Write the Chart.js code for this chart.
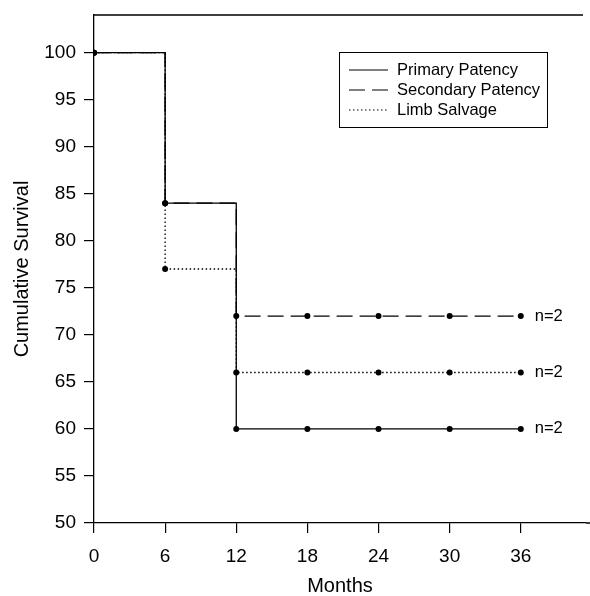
<!DOCTYPE html>
<html>
<head>
<meta charset="utf-8">
<script src="https://cdn.jsdelivr.net/npm/chart.js@4.4.1/dist/chart.umd.min.js"></script>
<style>
  body { margin: 0; background: #fff; }
  canvas { display: block; }
</style>
</head>
<body>
<canvas id="myChart" width="590" height="596"></canvas>
<script>
// data
const months = [0, 6, 12, 18, 24, 30, 36];
const primaryPatency = [100, 84, 60, 60, 60, 60, 60];
const secondaryPatency = [100, 84, 72, 72, 72, 72, 72];
const limbSalvage = [100, 77, 66, 66, 66, 66, 66];
const seriesNames = ['Primary Patency', 'Secondary Patency', 'Limb Salvage'];
const endLabels = ['n=2', 'n=2', 'n=2'];

const ink = '#000';
const font = '"Liberation Sans", Arial, sans-serif';

function toPoints(ys) {
  return months.map((m, i) => ({ x: m, y: ys[i] }));
}

const dashes = [[], [16, 7], [1.5, 2.5]];

// legend box + n=2 labels + top border
const extras = {
  id: 'extras',
  afterDraw(chart) {
    const c = chart.ctx;
    const area = chart.chartArea;
    const xs = chart.scales.x;
    const ys = chart.scales.y;
    c.save();
    c.strokeStyle = ink;
    c.lineWidth = 1.3;
    c.beginPath();
    c.moveTo(area.left, area.top);
    c.lineTo(area.right - 3, area.top);
    c.moveTo(area.right, area.bottom);
    c.lineTo(590, area.bottom);
    c.stroke();

    // legend
    c.lineWidth = 1;
    c.strokeRect(339.5, 52.5, 208, 75);
    c.font = '16.5px ' + font;
    c.fillStyle = ink;
    c.textBaseline = 'middle';
    const rows = [70, 90, 110];
    seriesNames.forEach((name, i) => {
      c.setLineDash(dashes[i]);
      c.lineWidth = 1.2;
      c.beginPath();
      c.moveTo(349, rows[i]);
      c.lineTo(388, rows[i]);
      c.stroke();
      c.setLineDash([]);
      c.fillText(name, 397, rows[i]);
    });

    // n=2 at the end of each curve
    const last = months.length - 1;
    const ends = [primaryPatency[last], secondaryPatency[last], limbSalvage[last]];
    ends.forEach((v, i) => {
      c.fillText(endLabels[i], xs.getPixelForValue(months[last]) + 14, ys.getPixelForValue(v));
    });
    c.restore();
  }
};

const ctx = document.getElementById('myChart');

new Chart(ctx, {
  type: 'line',
  data: {
    datasets: [
      { label: seriesNames[2], data: toPoints(limbSalvage), borderDash: dashes[2] },
      { label: seriesNames[1], data: toPoints(secondaryPatency), borderDash: dashes[1] },
      { label: seriesNames[0], data: toPoints(primaryPatency), borderDash: dashes[0] }
    ].map(d => Object.assign(d, {
      stepped: 'before',
      borderColor: ink,
      borderWidth: 1.3,
      pointRadius: 3,
      pointBackgroundColor: ink,
      pointBorderColor: ink,
      pointBorderWidth: 0,
      fill: false
    }))
  },
  options: {
    responsive: false,
    animation: false,
    layout: { padding: { top: 15, right: 4, left: 0, bottom: 0 } },
    plugins: { legend: { display: false }, tooltip: { enabled: false } },
    scales: {
      x: {
        type: 'linear',
        min: 0,
        max: 41.5,
        afterFit: s => { s.height = 73; s.paddingLeft = 0; s.paddingRight = 0; },
        ticks: { stepSize: 6, includeBounds: false, color: ink, padding: 12, font: { size: 19, family: font } },
        grid: { drawOnChartArea: false, tickLength: 10, color: ink, lineWidth: 1.2 },
        border: { color: ink, width: 1.3 },
        title: { display: true, text: 'Months', color: ink, font: { size: 20, family: font, lineHeight: 1 }, padding: { top: 0, bottom: 0 } }
      },
      y: {
        min: 50,
        max: 104,
        afterFit: s => { s.width = 94; s.paddingTop = 0; s.paddingBottom = 0; },
        ticks: { stepSize: 5, includeBounds: false, color: ink, padding: 8, font: { size: 19, family: font } },
        grid: { drawOnChartArea: false, tickLength: 10, color: ink, lineWidth: 1.2 },
        border: { color: ink, width: 1.3 },
        title: { display: true, text: 'Cumulative Survival', color: ink, font: { size: 20, family: font, lineHeight: 1 }, padding: { top: 12, bottom: 0 } }
      }
    }
  },
  plugins: [extras]
});
</script>
</body>
</html>
